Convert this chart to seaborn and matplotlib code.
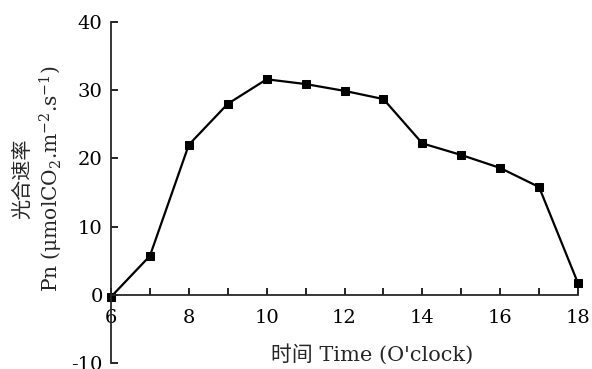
import matplotlib
matplotlib.use("Agg")
import matplotlib.pyplot as plt
import seaborn as sns
import pandas as pd

hours = [6, 7, 8, 9, 10, 11, 12, 13, 14, 15, 16, 17, 18]
pn = [-0.3, 5.7, 22.0, 28.0, 31.6, 30.9, 29.9, 28.7, 22.2, 20.5, 18.6, 15.8, 1.7]
xticks = [6, 8, 10, 12, 14, 16, 18]
yticks = [-10, 0, 10, 20, 30, 40]

sns.set_style("ticks")
plt.rcParams['font.family'] = ['DejaVu Serif', 'Noto Sans CJK SC']
plt.rcParams['mathtext.fontset'] = 'dejavuserif'
plt.rcParams['axes.unicode_minus'] = False

df = pd.DataFrame({"hour": hours, "pn": pn})

fig = plt.figure(figsize=(5.92, 3.69), dpi=100)
ax = fig.add_axes([111/592, 6/369, 467/592, 341/369])
sns.lineplot(data=df, x="hour", y="pn", ax=ax, color="black", linewidth=1.6,
             marker="s", markersize=6, markeredgecolor="black", clip_on=False)

ax.set_xlim(6, 18)
ax.set_ylim(-10, 40)
ax.set_xticks(xticks)
ax.set_xticks(hours, minor=True)
ax.set_yticks(yticks)
ax.spines['top'].set_visible(False)
ax.spines['right'].set_visible(False)
ax.spines['bottom'].set_position(('data', 0))
ax.spines['left'].set_linewidth(1.3)
ax.spines['bottom'].set_linewidth(1.3)
ax.tick_params(axis='both', which='both', direction='in', length=5, width=1.2, labelsize=14, colors='black')
ax.tick_params(axis='x', which='major', pad=10)
ax.tick_params(axis='y', which='major', pad=6)

ax.set_xlabel("时间 Time (O'clock)", fontsize=15)
ax.xaxis.set_label_coords(0.56, -0.005, transform=ax.transAxes)
ax.xaxis.label.set_verticalalignment('bottom')
ax.set_ylabel("光合速率\nPn (μmolCO$_2$.m$^{-2}$.s$^{-1}$)", fontsize=14.5, linespacing=1.25)
ax.yaxis.set_label_coords(-0.099, 0.54)

fig.savefig("out.png", dpi=100)
